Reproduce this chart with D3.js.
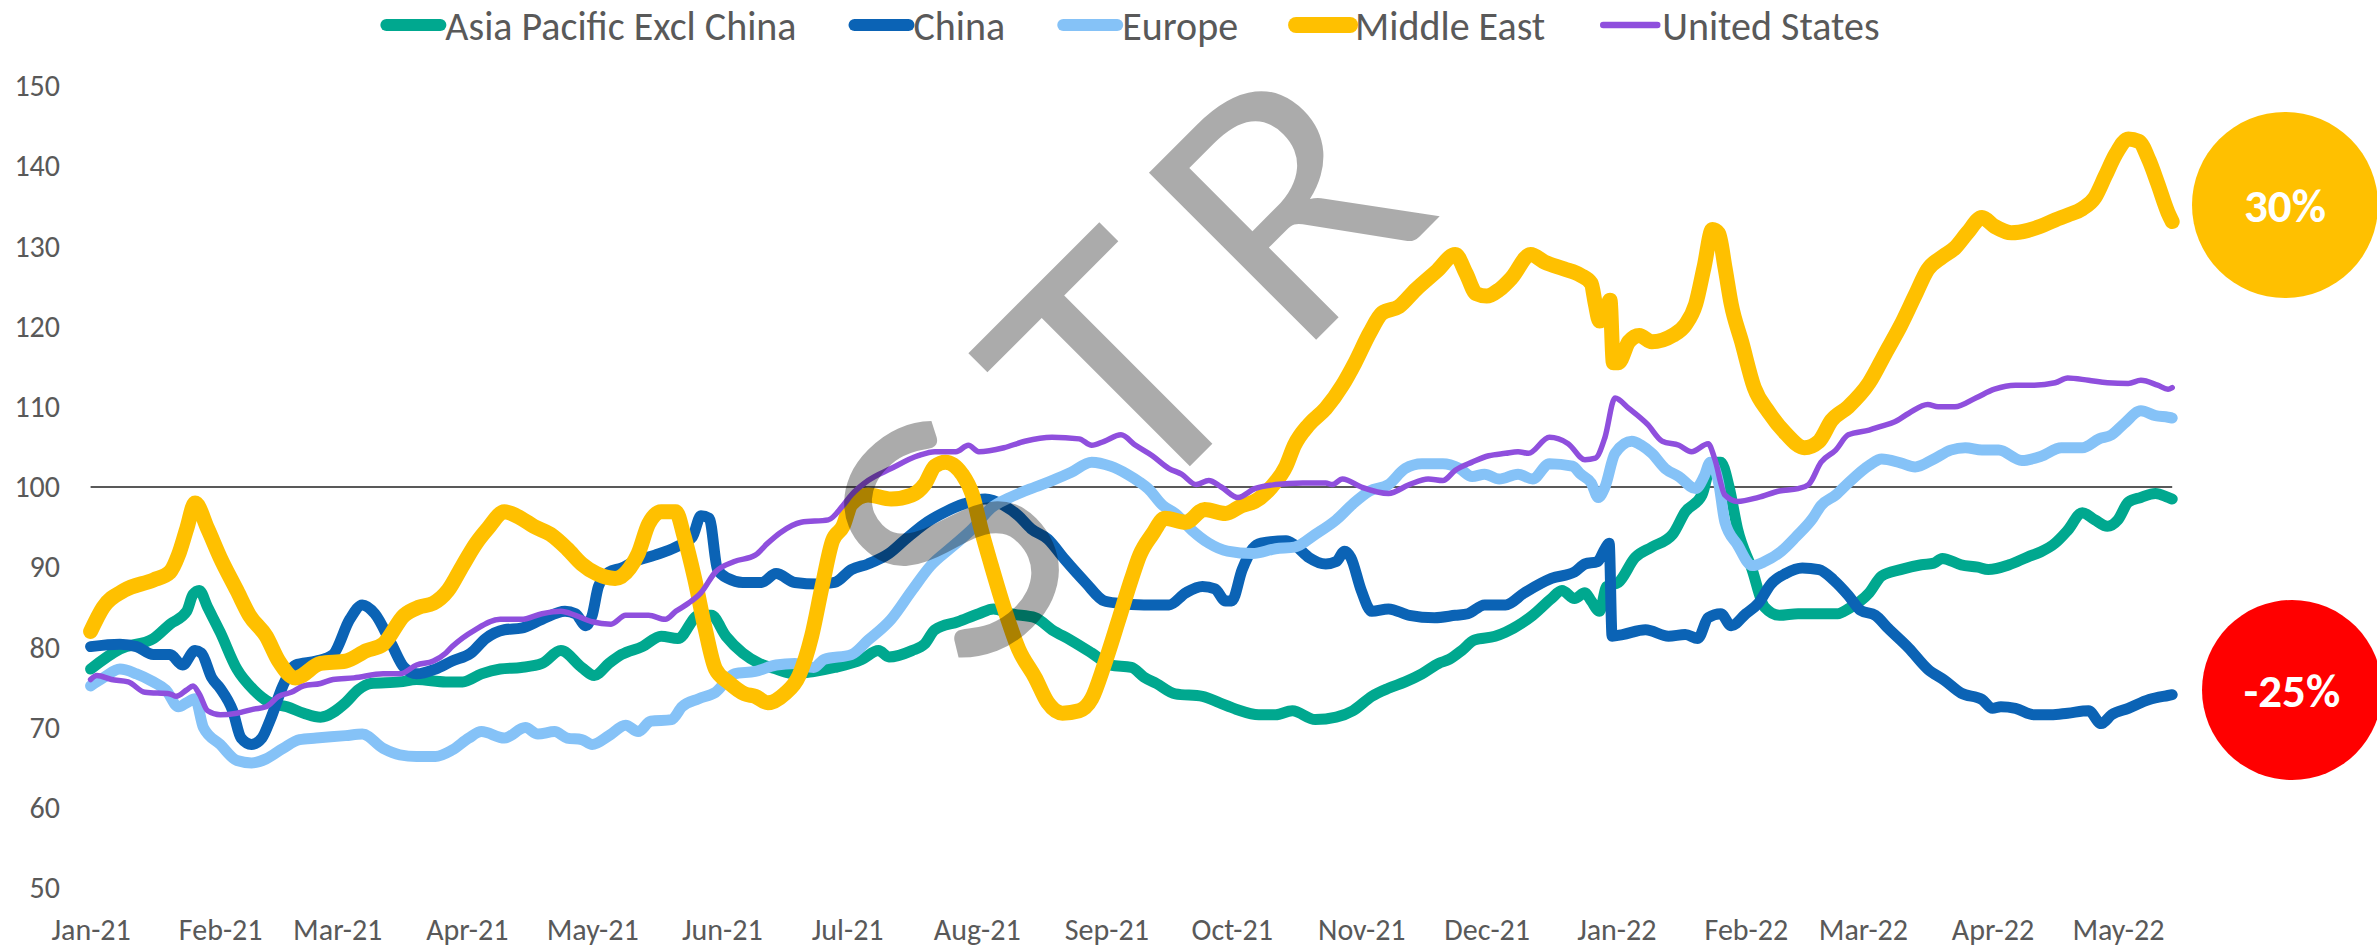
<!DOCTYPE html>
<html>
<head>
<meta charset="utf-8">
<script src="https://cdn.jsdelivr.net/npm/d3@7"></script>
<style>
  body { margin: 0; background: #fff; }
  svg { display: block; }
</style>
</head>
<body>
<div id="chart"></div>
<script>
// index series, days counted from 1 Jan 2021
const seriesNames = ["Asia Pacific Excl China", "China", "Europe", "Middle East", "United States"];

const apxcData = [[0,77.3],[7,79.8],[15,81.1],[19,82.9],[23,84.5],[24.5,86.6],[26,87.1],[28,85],[31,81.9],[35,77.3],[39,74.7],[43,73.1],[47,72.6],[51,71.8],[55,71.3],[61,73.1],[64,74.7],[67,75.5],[74,75.7],[78,76],[85,75.7],[89,75.7],[93.5,76.7],[98,77.3],[103,77.5],[108,78],[112.5,79.6],[117.5,77.5],[120.5,76.5],[124,78],[127,79.1],[132,80.1],[136.5,81.4],[140.5,81.1],[145.5,84],[148.5,84],[152,81.4],[156,79.3],[160,78],[164,77.3],[168.5,76.7],[173,77],[178,77.5],[184.5,78.5],[188.5,79.6],[191,78.8],[196.5,79.6],[199.5,80.4],[202,82.2],[207.5,83.2],[212.5,84.2],[216,84.8],[220,84.2],[226,83.7],[230,82.2],[234.5,80.9],[239.5,79.3],[244,77.8],[249,77.5],[252,76.3],[255,75.5],[259.5,74.2],[266,73.9],[270,73.1],[274,72.3],[279.5,71.6],[283.5,71.6],[287.5,72.1],[293,71],[298,71.3],[302,72.1],[306.5,73.9],[310.5,74.9],[314.5,75.7],[318.5,76.7],[322.5,78],[325,78.5],[328,79.6],[331,80.9],[336,81.4],[338.5,81.9],[345,84],[349.5,86.1],[352,87.1],[355,86.1],[357.5,86.8],[359,85.8],[361,84.5],[362.7,87.6],[365.5,88.1],[369.5,91.2],[373.5,92.5],[378.5,94.1],[381.5,96.9],[385.5,99],[388,103.1],[390,103.1],[392,100],[394,94.8],[397.5,89.7],[400.5,85],[404,84],[408.5,84.2],[413.5,84.2],[418,84.2],[420.5,84.8],[425.5,86.8],[428.5,88.9],[433,89.7],[438,90.3],[441,90.5],[443,91.1],[447.5,90.3],[451.5,90],[454,89.7],[459,90.3],[463.5,91.3],[466.5,91.9],[470,93],[473,94.6],[476.5,96.8],[479.5,95.9],[482.5,95.1],[485,95.9],[487.5,98.1],[490.5,98.7],[494,99.2],[497,98.7],[498,98.5]];

const chinaData = [[0,80.1],[7,80.4],[11,80.1],[15,79.1],[19,79.1],[22,77.8],[25,79.6],[26.5,79.3],[29,76.2],[31,74.9],[34,72.1],[36,68.7],[38.5,67.9],[41,68.7],[43,71],[46,75.2],[49,77.8],[54,78.3],[58,79.1],[62,83.5],[65,85.3],[68,84.2],[72,80.4],[75,77.5],[78,76.7],[82.5,77.3],[86.5,78.3],[91,79.3],[94.5,81.1],[99,82.2],[103,82.4],[108,83.5],[113.5,84.5],[116,84.2],[118.5,82.7],[120,84],[121.5,87.6],[124,89.4],[127,89.9],[130,90.7],[135,91.5],[140,92.5],[144,93.8],[146,96.4],[148,96.1],[150,89.7],[152.5,88.6],[156,88.1],[160.5,88.1],[164,89.2],[168.5,88.1],[174,87.9],[178,88.1],[182,89.7],[186,90.4],[191,91.7],[195,93.5],[199.5,95.4],[204.5,96.9],[209,97.9],[214,98.5],[218.5,97.7],[222,96.4],[225,94.8],[229,93.5],[233,91],[238,88.1],[242.5,85.8],[246,85.5],[252,85.3],[258,85.3],[262,86.8],[266,87.6],[269,87.3],[271.5,85.8],[273,85.8],[275.5,89.7],[278,92.3],[280,93],[286,93.3],[288,92.8],[291.5,91.2],[295.5,90.4],[298,90.7],[300,92],[301.5,91.2],[304,87.1],[306.5,84.5],[310.5,84.8],[315.5,84],[321.5,83.7],[326.5,84],[329.5,84.2],[333.5,85.3],[338.5,85.3],[343,86.8],[349.5,88.6],[355,89.4],[357.5,90.4],[360.5,90.7],[362.3,92.3],[363.3,93],[364,81.4],[366.5,81.6],[372,82.2],[377.5,81.4],[381.5,81.6],[384.5,81.1],[387,83.7],[390,84.2],[392.5,82.7],[396,84.2],[399,85.5],[402,87.9],[405.5,89.2],[409.5,89.9],[413.5,89.7],[417,88.4],[420.5,86.5],[423.5,84.6],[427,84],[430,82.4],[435,79.9],[439.5,77.3],[443.5,75.9],[447.5,74.3],[452.5,73.5],[455,72.4],[457,72.6],[460.5,72.4],[465,71.6],[469,71.6],[473,71.8],[478,72.1],[481,70.5],[483.5,71.6],[487.5,72.4],[492.5,73.5],[497,74],[498,74.1]];

const europeData = [[0,75.2],[3,76.2],[7,77.3],[11,76.7],[15,75.7],[18,74.7],[21,72.6],[23,73.1],[25,73.6],[27,70],[31,67.9],[35,65.9],[38.5,65.6],[42,66.1],[46,67.4],[50,68.5],[54,68.7],[61,69],[65,69.2],[70,67.4],[74,66.6],[78,66.4],[82.5,66.4],[86.5,67.2],[90.5,68.7],[93.5,69.5],[99,68.7],[104,70],[107,69.2],[111,69.5],[114,68.7],[117.5,68.5],[120,67.9],[124,69],[128,70.3],[131,69.5],[134,70.8],[139,71],[141.5,72.6],[145.5,73.6],[149.5,74.4],[154,76.7],[159,77],[164,77.8],[168.5,78],[173,77.5],[175.5,78.5],[182,79.1],[186,80.9],[191.5,83.5],[196.5,87.1],[201,90.2],[206,92.5],[211,94.8],[215.5,97.4],[220,98.7],[226,100],[230,100.8],[234.5,101.8],[239.5,103.1],[244,102.6],[248,101.6],[251,100.6],[253,99.8],[256.5,97.7],[259.5,96.7],[263.5,94.6],[267.5,93],[272,92],[278,91.7],[283.5,92.3],[288,92.5],[293,94.1],[298,95.9],[302,97.9],[306,99.5],[310.5,100.3],[314.5,102.3],[318.5,102.9],[323.5,102.9],[327.5,102.3],[330.5,101.3],[333.5,101.6],[337,101],[341.5,101.6],[345,101],[349,102.9],[354.5,102.6],[356.5,101.6],[359,100.5],[360.7,98.7],[362.3,100],[364.7,104.2],[368.7,105.7],[371,105.2],[373.5,104.2],[376.7,102.3],[380,101.3],[384,99.8],[386,101.3],[387.5,103.1],[389.5,100.5],[391,95.6],[394,92.8],[397.5,90.2],[400.5,90.7],[404.5,92],[408,93.8],[412,96.1],[414,97.7],[417.5,99],[420.5,100.5],[425.5,102.7],[428.5,103.5],[433,103],[436.5,102.5],[441,103.5],[445,104.6],[448.5,104.9],[452.5,104.6],[456.5,104.6],[462,103.3],[466.5,103.8],[471.5,104.9],[476.5,104.9],[480.5,106],[483.5,106.5],[486.5,107.9],[490.5,109.5],[494,108.9],[497,108.7],[498,108.6]];

const middleEastData = [[0,82],[3,85],[8,87.1],[15,88.4],[19,89.4],[21,91.5],[23,94.8],[25,98],[28,94.8],[31,91.2],[35,87.1],[38,84],[42,81.4],[45,78.3],[49,76.2],[55,78],[61,78.3],[66,79.6],[70,80.4],[75,84],[78.5,85],[82,85.5],[85.5,87.1],[89,90.2],[92,92.8],[95,94.8],[99,96.9],[103,96.1],[106,95.1],[110,94.1],[114,92.3],[117.5,90.4],[121,89.2],[125.5,88.6],[129,89.9],[131,91.7],[133.5,95.4],[136.5,96.9],[140,96.9],[142,93.8],[144.5,88.6],[147,82.4],[149.5,77.3],[152.5,75.7],[156.5,74.2],[159,73.9],[162,73.1],[166,74.2],[169.5,76.5],[172.5,81.4],[175,87.6],[177.5,93.3],[180,95.1],[182,97.9],[186,99],[191.5,98.5],[196.5,99],[199.5,100.3],[202,102.6],[204.5,103.1],[208.5,101.6],[211,99],[213,94.8],[215.5,90.2],[218.5,85],[222,79.8],[226,76.2],[229,73.1],[232.5,71.8],[236.5,72.1],[239.5,73.6],[242.5,77.8],[246,83.5],[249,88.5],[251,91.5],[254,94.1],[257,96.1],[262,95.6],[266.5,97.2],[271.5,96.7],[275.5,97.7],[278.5,98.2],[282.5,100],[286,102.6],[288,105.2],[291.5,107.8],[295.5,109.8],[299.5,112.7],[302.5,115.5],[306,119.2],[309,121.7],[313,122.5],[317,124.6],[322,126.9],[326.5,129],[329,126.7],[331.5,124.1],[334,123.8],[337,124.6],[340,126.1],[344.5,129],[348,128],[352.5,127.2],[356.5,126.4],[359,125.4],[360,122.8],[361,120.7],[362.5,121.7],[363.5,123.3],[364.3,115.5],[365.5,115.5],[368,118.1],[370.5,118.9],[373.5,118.1],[378.5,118.9],[381.5,120.2],[384,122.8],[386,127.4],[388,132.1],[389.5,131.6],[391,127.4],[392.5,122.8],[395,118.1],[398,112.4],[401.5,109.3],[405.5,106.7],[410,104.9],[413.5,105.7],[416.5,108.3],[420.5,110],[425.5,113],[429.5,116.8],[433,120.1],[436.5,123.9],[439.5,127.1],[443,128.7],[446,129.8],[449,131.7],[452.5,133.6],[455.5,132.5],[459.5,131.7],[463.5,132],[466.5,132.5],[470,133.3],[473,133.9],[476.5,134.7],[479.5,136.1],[482,138.8],[484.5,141.5],[487.5,143.4],[490,143.1],[492.5,140.7],[494.5,137.9],[497,134.2],[498,133.1]];

const usData = [[0,76],[1.5,76.5],[5,76],[9,75.7],[13,74.4],[19,74.2],[20.5,73.9],[23,74.7],[24.5,75.2],[26,74.2],[28,72.1],[31,71.6],[35,71.8],[39,72.3],[42,72.6],[45,73.9],[48,74.4],[51,75.2],[55,75.5],[58,76],[63,76.2],[70,76.7],[74,76.7],[78,77.8],[82,78.3],[85,79.3],[86.5,80.1],[92,82.2],[98,83.5],[103,83.5],[108,84.2],[112.5,84.5],[116,84],[120,83.2],[124.5,82.9],[128,84],[133.5,84],[137.5,83.5],[140,84.5],[143,85.5],[146,86.8],[149.5,89.4],[154,90.7],[159,91.5],[162,93],[165,94.3],[170,95.6],[176.5,95.9],[180,97.7],[182,99],[186,100.8],[191.5,102.3],[198,103.9],[202,104.4],[207,104.4],[210,105.2],[212.5,104.4],[218.5,104.9],[223.5,105.7],[230,106.2],[236.5,106],[239.5,105.2],[242.5,105.7],[246.5,106.5],[250,105.2],[254,103.9],[258,102.3],[261,101.6],[264.5,100.3],[267.5,100.8],[270.5,100],[274.5,98.7],[278.5,99.8],[283.5,100.3],[290,100.5],[295.5,100.5],[297,100.3],[299.5,101],[304,100],[310.5,99.2],[315.5,100.3],[320,101],[323.5,100.8],[326.5,102.1],[330.5,103.1],[334.5,103.9],[338.5,104.2],[341.5,104.4],[344,104.2],[349,106.2],[353.5,105.4],[357.5,103.4],[360,103.6],[362.3,106.2],[364.7,111.1],[368,109.8],[372.5,107.8],[376,105.7],[380,105.2],[383,104.4],[387,105.4],[388.5,103.6],[391,99],[394,98.2],[399,98.7],[404,99.5],[408.5,99.8],[411,100.3],[414,103.1],[417.5,104.6],[420.5,106.5],[425.5,107.1],[428.5,107.6],[431.5,108.1],[435,109.2],[439.5,110.3],[442,110],[446,110],[451,111.1],[455.5,112.2],[460.5,112.7],[465,112.7],[470,113],[473,113.6],[478,113.3],[482.5,113],[487.5,112.9],[490.5,113.3],[494.5,112.7],[497,112.2],[498,112.4]];

const yTicks = [50, 60, 70, 80, 90, 100, 110, 120, 130, 140, 150];
const monthLabels = ["Jan-21","Feb-21","Mar-21","Apr-21","May-21","Jun-21","Jul-21","Aug-21","Sep-21","Oct-21","Nov-21","Dec-21","Jan-22","Feb-22","Mar-22","Apr-22","May-22"];
const baseline = 100;
const calloutLabels = ["30%", "-25%"];

const width = 2377;
const height = 947;
const font = "Carlito, Lato, 'Liberation Sans', sans-serif";
const textColor = "#595959";

const seriesColors = ["#00A88F", "#0B63B5", "#85C2F7", "#FFC000", "#8F4FDD"];
const seriesWidths = [11, 11, 11, 15, 5.5];

const startDate = new Date(Date.UTC(2021, 0, 1));
const endDate = new Date(Date.UTC(2022, 4, 14));
const toDate = d => new Date(startDate.getTime() + d * 864e5);

const svg = d3.select("#chart")
  .append("svg")
  .attr("width", width)
  .attr("height", height)
  .style("background", "#fff");

const x = d3.scaleUtc().domain([startDate, endDate]).range([90.6, 2172.2]);
const y = d3.scaleLinear().domain([50, 150]).range([888, 86]);

// axes, no lines, just labels
const yAxis = svg.append("g")
  .attr("transform", "translate(60,0)")
  .call(d3.axisLeft(y).tickValues(yTicks).tickSize(0).tickPadding(0));
yAxis.select(".domain").remove();

const months = d3.utcMonth.range(startDate, d3.utcDay.offset(endDate, 1));
const xAxis = svg.append("g")
  .attr("transform", "translate(0,888)")
  .call(d3.axisBottom(x).tickValues(months).tickSize(0).tickPadding(31)
    .tickFormat((d, i) => monthLabels[i]));
xAxis.select(".domain").remove();

svg.selectAll(".tick text")
  .attr("font-family", font)
  .attr("font-size", 30)
  .attr("fill", textColor);

// 100 reference line
svg.append("line")
  .attr("x1", x(startDate))
  .attr("x2", x(endDate))
  .attr("y1", y(baseline))
  .attr("y2", y(baseline))
  .attr("stroke", "#595959")
  .attr("stroke-width", 2);

const allSeries = [apxcData, chinaData, europeData, middleEastData, usData];

const line = d3.line()
  .x(d => x(toDate(d[0])))
  .y(d => y(d[1]))
  .curve(d3.curveMonotoneX);

svg.append("g")
  .selectAll("path")
  .data(allSeries)
  .join("path")
  .attr("d", line)
  .attr("fill", "none")
  .attr("stroke", (d, i) => seriesColors[i])
  .attr("stroke-width", (d, i) => seriesWidths[i])
  .attr("stroke-linejoin", "round")
  .attr("stroke-linecap", "round");

// legend across the top
const legend = svg.append("g");
let lx = 0;
seriesNames.forEach((name, i) => {
  const item = legend.append("g").attr("transform", `translate(${lx},0)`);
  item.append("line")
    .attr("x1", 4).attr("x2", 58)
    .attr("y1", 25).attr("y2", 25)
    .attr("stroke", seriesColors[i])
    .attr("stroke-width", seriesWidths[i] + 1)
    .attr("stroke-linecap", "round");
  const t = item.append("text")
    .attr("x", 63)
    .attr("y", 40)
    .attr("font-family", font)
    .attr("font-size", 40)
    .attr("fill", textColor)
    .text(name);
  lx += 63 + t.node().getComputedTextLength() + 54;
});
legend.attr("transform", `translate(${1131 - (lx - 54) / 2},0)`);

// watermark
const mark = svg.append("g")
  .attr("transform", "translate(1201,455) rotate(-45)")
  .attr("font-family", "Lato, 'Open Sans', sans-serif")
  .attr("font-weight", 400)
  .attr("font-size", 330)
  .attr("fill", "#000")
  .attr("fill-opacity", 0.33)
  .attr("text-anchor", "middle");
["S", "T", "R"].forEach((c, i) => {
  mark.append("text").attr("x", (i - 1) * 236).text(c);
});

// callouts on the right
const callouts = svg.append("g");
const calloutColors = ["#FFC000", "#FF0000"];
const calloutPos = [[2285, 205, 93], [2292, 690, 90]];
calloutLabels.forEach((lab, i) => {
  const [cx, cy, r] = calloutPos[i];
  callouts.append("circle")
    .attr("cx", cx).attr("cy", cy).attr("r", r)
    .attr("fill", calloutColors[i]);
  callouts.append("text")
    .attr("x", cx).attr("y", cy + 17)
    .attr("text-anchor", "middle")
    .attr("font-family", font)
    .attr("font-weight", "bold")
    .attr("font-size", 47)
    .attr("fill", "#fff")
    .text(lab);
});
</script>
</body>
</html>
